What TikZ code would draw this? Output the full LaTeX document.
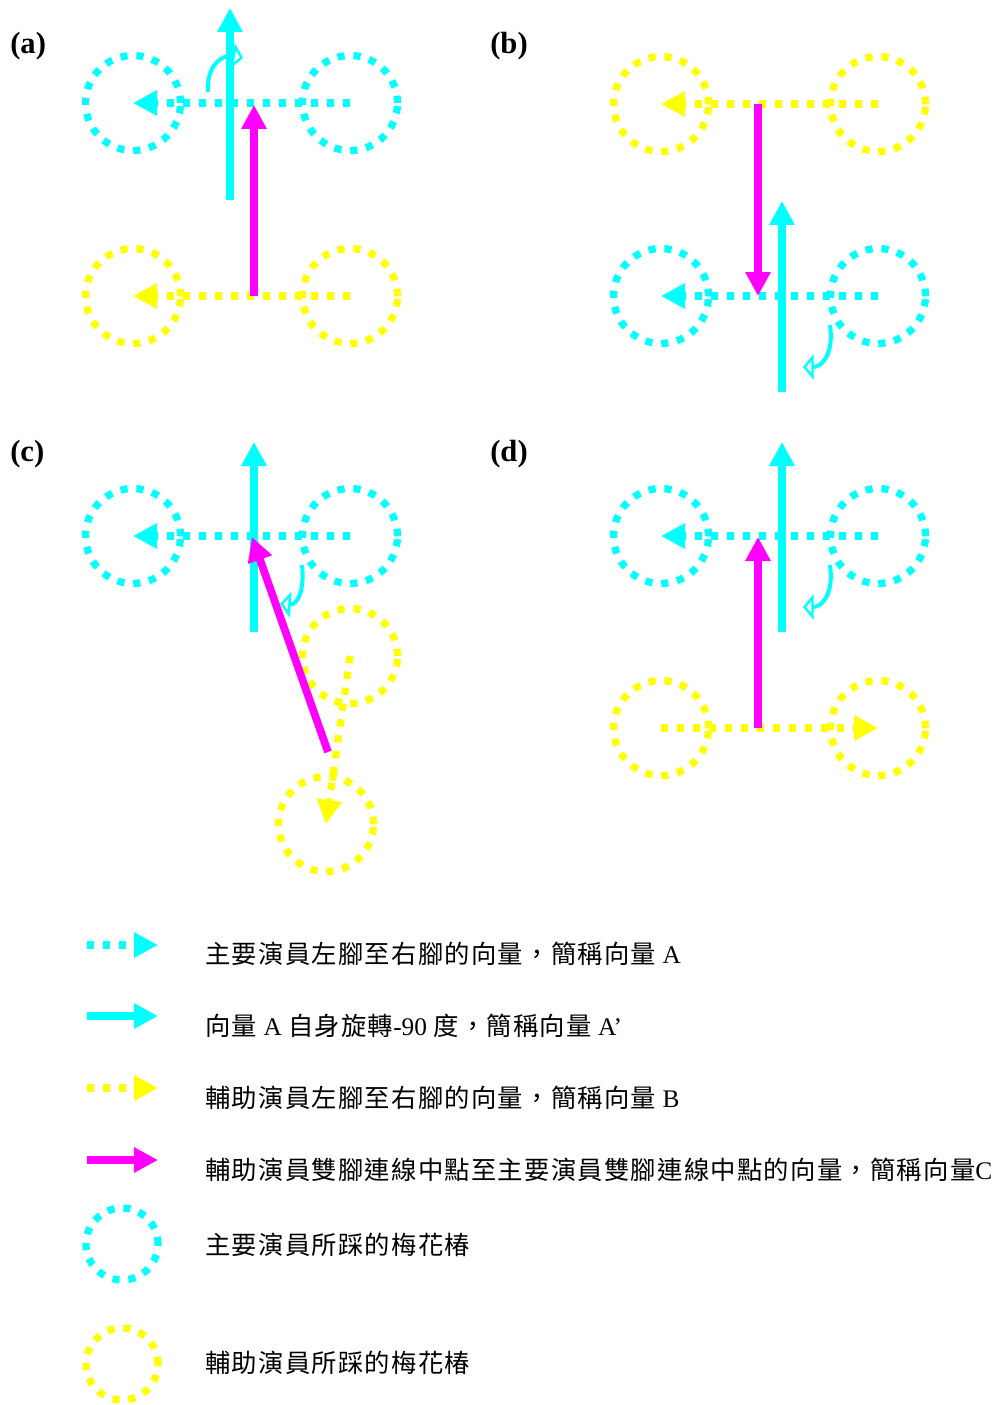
\documentclass[tikz,border=0pt]{standalone}
\usepackage{fontspec}
\setmainfont{Liberation Serif}
\newfontfamily\cjk{Noto Sans CJK TC}[LetterSpace=5]
\usetikzlibrary{arrows.meta}
\definecolor{cy}{HTML}{00FFFF}
\definecolor{mg}{HTML}{FF00FF}
\definecolor{yl}{HTML}{FFFF00}
\begin{document}
\begin{tikzpicture}[x=0.75pt,y=-0.75pt,
  pile/.style={circle,draw=#1,line width=5.4pt,dash pattern=on 5.4pt off 6.6pt,minimum size=71.25pt,inner sep=0pt},
  lpile/.style={pile=#1,minimum size=54pt},
  dvec/.style={draw=#1,line width=5.4pt,dash pattern=on 5.4pt off 6.6pt,-{Triangle[length=18pt,width=18pt]}},
  svec/.style={draw=#1,line width=5.8pt,-{Triangle[length=18pt,width=18pt]}},
  rot/.style={draw=cy,line width=3pt,-{Triangle[open,length=8pt,width=19pt,line width=1.8pt]}},
  lab/.style={font=\bfseries\fontsize{23}{23}\selectfont,anchor=west,inner sep=0pt},
  txt/.style={font=\fontsize{19}{19}\selectfont,anchor=west,inner sep=0pt}]
\useasboundingbox (0,0) rectangle (1007,1405);

% ---------- (a)
\node[lab] (la) at (10,46) {(a)};
\node[pile=cy] (aC1) at (133,103) {};
\node[pile=cy] (aC2) at (350,103) {};
\node[pile=yl] (aY1) at (133,296) {};
\node[pile=yl] (aY2) at (350,296) {};
\draw[dvec=cy] (aC2.center) -- (aC1.center);
\draw[dvec=yl] (aY2.center) -- (aY1.center);
\coordinate (aS0) at (230,200); \coordinate (aS1) at (230,8);
\draw[svec=cy] (aS0) -- (aS1);
\coordinate (aR0) at (208,92); \coordinate (aR1) at (243,58);
\draw[rot] (aR0) .. controls (206,66) and (222,54) .. (aR1);
\coordinate (aM0) at (254,296); \coordinate (aM1) at (254,105);
\draw[svec=mg] (aM0) -- (aM1);

% ---------- (b)
\node[lab] (lb) at (490,46) {(b)};
\node[pile=yl] (bY1) at (661,104) {};
\node[pile=yl] (bY2) at (878,104) {};
\node[pile=cy] (bC1) at (661,296) {};
\node[pile=cy] (bC2) at (878,296) {};
\draw[dvec=yl] (bY2.center) -- (bY1.center);
\draw[dvec=cy] (bC2.center) -- (bC1.center);
\coordinate (bS0) at (782,392); \coordinate (bS1) at (782,201);
\draw[svec=cy] (bS0) -- (bS1);
\coordinate (bR0) at (830,325); \coordinate (bR1) at (803,367);
\draw[rot] (bR0) .. controls (834,352) and (823,367) .. (bR1);
\coordinate (bM0) at (758,104); \coordinate (bM1) at (758,296);
\draw[svec=mg] (bM0) -- (bM1);

% ---------- (c)
\node[lab] (lc) at (10,454) {(c)};
\node[pile=cy] (cC1) at (133,536) {};
\node[pile=cy] (cC2) at (350,536) {};
\node[pile=yl] (cY1) at (350,656) {};
\node[pile=yl] (cY2) at (326,824) {};
\draw[dvec=cy] (cC2.center) -- (cC1.center);
\draw[dvec=yl] (cY1.center) -- (cY2.center);
\coordinate (cS0) at (254,632); \coordinate (cS1) at (254,442);
\draw[svec=cy] (cS0) -- (cS1);
\coordinate (cR0) at (302,565); \coordinate (cR1) at (280,604);
\draw[rot] (cR0) .. controls (305,591) and (297,605) .. (cR1);
\coordinate (cM0) at (328,752); \coordinate (cM1) at (252,537);
\draw[svec=mg] (cM0) -- (cM1);

% ---------- (d)
\node[lab] (ld) at (490,454) {(d)};
\node[pile=cy] (dC1) at (661,536) {};
\node[pile=cy] (dC2) at (878,536) {};
\node[pile=yl] (dY1) at (661,728) {};
\node[pile=yl] (dY2) at (878,728) {};
\draw[dvec=cy] (dC2.center) -- (dC1.center);
\draw[dvec=yl] (dY1.center) -- (dY2.center);
\coordinate (dS0) at (782,632); \coordinate (dS1) at (782,442);
\draw[svec=cy] (dS0) -- (dS1);
\coordinate (dR0) at (830,565); \coordinate (dR1) at (803,607);
\draw[rot] (dR0) .. controls (834,592) and (823,607) .. (dR1);
\coordinate (dM0) at (758,728); \coordinate (dM1) at (758,537);
\draw[svec=mg] (dM0) -- (dM1);

% ---------- legend
\coordinate (k1a) at (87,945); \coordinate (k1b) at (158,945);
\draw[dvec=cy] (k1a) -- (k1b);
\node[txt] (t1) at (205,954) {{\cjk 主要演員左腳至右腳的向量，簡稱向量} A};
\coordinate (k2a) at (87,1016); \coordinate (k2b) at (158,1016);
\draw[svec=cy,line width=6pt] (k2a) -- (k2b);
\node[txt] (t2) at (205,1026) {{\cjk 向量} A {\cjk 自身旋轉}-90 {\cjk 度，簡稱向量} A’};
\coordinate (k3a) at (87,1088); \coordinate (k3b) at (158,1088);
\draw[dvec=yl] (k3a) -- (k3b);
\node[txt] (t3) at (205,1098) {{\cjk 輔助演員左腳至右腳的向量，簡稱向量} B};
\coordinate (k4a) at (87,1160); \coordinate (k4b) at (158,1160);
\draw[svec=mg,line width=6pt] (k4a) -- (k4b);
\node[txt] (t4) at (205,1170) {{\cjk 輔助演員雙腳連線中點至主要演員雙腳連線中點的向量，簡稱向量}C};
\node[lpile=cy] (k5) at (122,1244) {};
\node[txt] (t5) at (205,1245) {{\cjk 主要演員所踩的梅花椿}};
\node[lpile=yl] (k6) at (122,1364) {};
\node[txt] (t6) at (205,1363) {{\cjk 輔助演員所踩的梅花椿}};
\end{tikzpicture}
\end{document}
